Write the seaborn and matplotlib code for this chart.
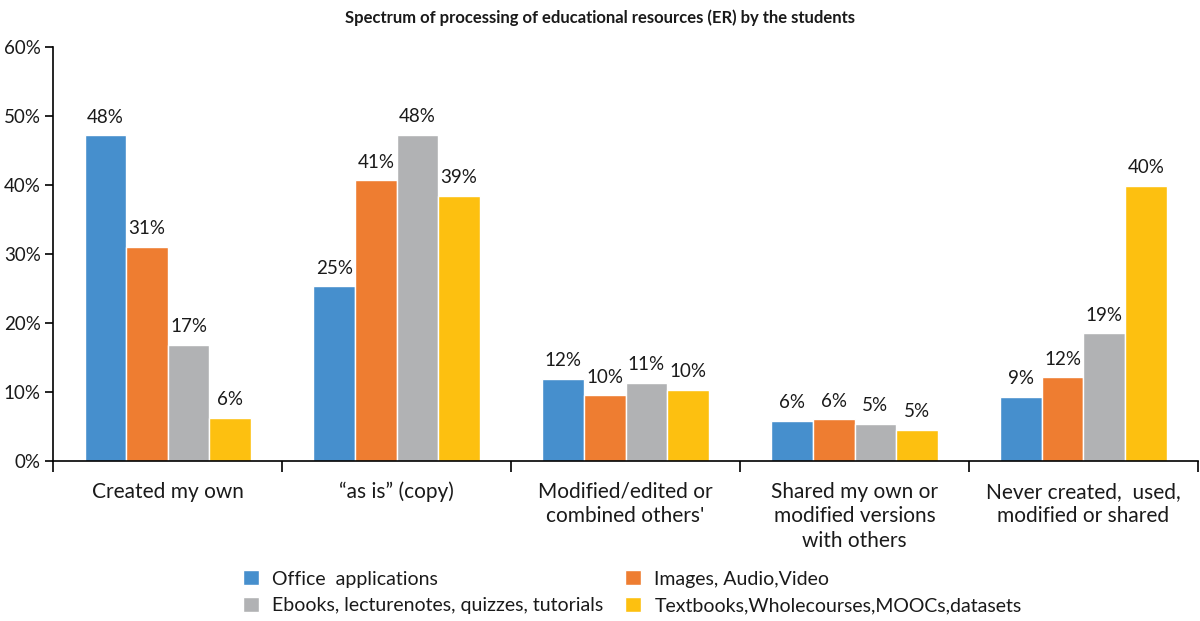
import numpy as np
import pandas as pd
import matplotlib
matplotlib.use('Agg')
import matplotlib.pyplot as plt
import seaborn as sns
from matplotlib.ticker import FuncFormatter, FixedLocator

# data
categories = ["Created my own", "\u201cas is\u201d (copy)", "Modified/edited or\ncombined others'",
              "Shared my own or\nmodified versions\nwith others", "Never created,  used,\nmodified or shared"]
series = ["Office  applications", "Images, Audio,Video",
          "Ebooks, lecturenotes, quizzes, tutorials", "Textbooks,Wholecourses,MOOCs,datasets"]
office = [47.2, 25.3, 11.9, 5.8, 9.3]
images = [31.0, 40.7, 9.5, 6.0, 12.1]
ebooks = [16.8, 47.3, 11.3, 5.4, 18.5]
textbooks = [6.2, 38.4, 10.3, 4.5, 39.9]
label_office = ["48%", "25%", "12%", "6%", "9%"]
label_images = ["31%", "41%", "10%", "6%", "12%"]
label_ebooks = ["17%", "48%", "11%", "5%", "19%"]
label_textbooks = ["6%", "39%", "10%", "5%", "40%"]
colors = ["#468fcd", "#ee7d31", "#b1b2b4", "#fdc010"]

rows = []
for s, vals in zip(series, [office, images, ebooks, textbooks]):
    for c, v in zip(categories, vals):
        rows.append({"Category": c, "Series": s, "Value": v})
df = pd.DataFrame(rows)

sns.set_style("white")
plt.rcParams['font.family'] = ['Lato', 'DejaVu Sans']
txt = "#1a1a1a"

fig = plt.figure(figsize=(12, 6.21), dpi=100)
ax = fig.add_axes([0.0444, 0.258, 0.9539, 0.666])

sns.barplot(data=df, x="Category", y="Value", hue="Series", palette=colors,
            width=0.727, gap=0, saturation=1, ax=ax, legend=True, errorbar=None)

for cont, labs in zip(ax.containers, [label_office, label_images, label_ebooks, label_textbooks]):
    ax.bar_label(cont, labels=labs, padding=7, fontsize=13.5, color=txt)

ax.set_xlim(-0.5, len(categories) - 0.5)
ax.set_ylim(0, 60)
ax.set_yticks(np.arange(0, 61, 10))
ax.yaxis.set_major_formatter(FuncFormatter(lambda v, p: f"{v:.0f}%"))
ax.tick_params(axis='y', direction='out', length=6, width=1.2, colors='black', labelcolor=txt,
               labelsize=13.5, pad=3, left=True)
ax.tick_params(axis='x', which='major', length=0, labelsize=15, labelcolor=txt, pad=15)
for lab in ax.get_xticklabels():
    lab.set_linespacing(1.3)
ax.xaxis.set_minor_locator(FixedLocator(np.arange(-0.5, len(categories), 1.0)))
ax.tick_params(axis='x', which='minor', direction='out', length=8, width=1.2, colors='black', bottom=True)
ax.set_xlabel("")
ax.set_ylabel("")
for sp in ['top', 'right']:
    ax.spines[sp].set_visible(False)
for sp in ['left', 'bottom']:
    ax.spines[sp].set_color('black')
    ax.spines[sp].set_linewidth(1.2)

handles, labels = ax.get_legend_handles_labels()
ax.get_legend().remove()
order = [0, 2, 1, 3]
fig.legend([handles[i] for i in order], [labels[i] for i in order], ncol=2, loc='center',
           bbox_to_anchor=(0.527, 0.046), frameon=False, fontsize=14, handlelength=0.8,
           handleheight=0.8, handletextpad=0.7, columnspacing=1.1, labelspacing=0.5, labelcolor=txt)

fig.suptitle("Spectrum of processing of educational resources (ER) by the students",
             x=0.5, y=0.985, fontsize=12, fontweight='bold', color=txt)

fig.savefig("out.png", dpi=100)
